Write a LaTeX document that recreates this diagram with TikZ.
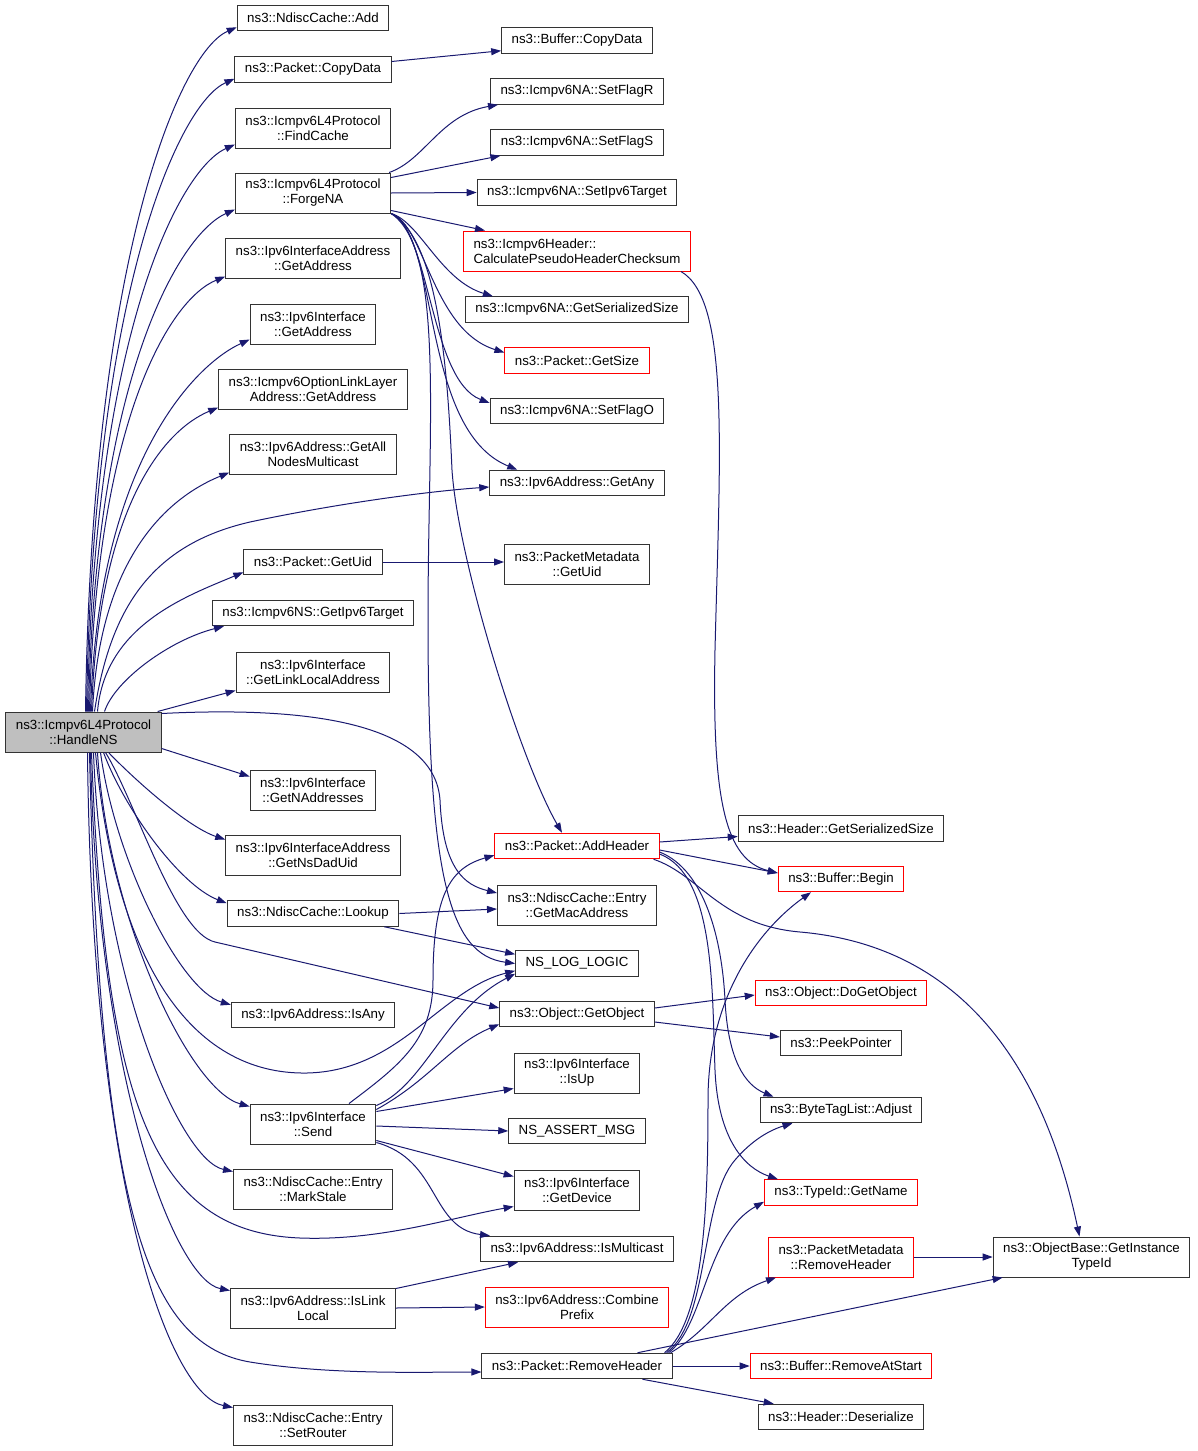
\documentclass[tikz,border=0pt]{standalone}
\usepackage{fontspec}
\setmainfont{Liberation Sans}
\usetikzlibrary{arrows.meta}
\definecolor{edgeblue}{RGB}{25,25,112}
\definecolor{rootgray}{RGB}{191,191,191}
\tikzset{
  fnbox/.style={draw=black!80, line width=1pt, fill=white, inner xsep=10pt, inner ysep=2pt,
    minimum height=25.5pt, font=\fontsize{13.3}{15}\selectfont, align=center},
  redbox/.style={fnbox, draw=red},
  tworow/.style={minimum height=40pt},
  callarrow/.style={draw=edgeblue, line width=1pt, -{Triangle[length=10pt,width=7pt]}},
}
\begin{document}
\begin{tikzpicture}[x=1pt,y=-1pt]
\useasboundingbox (0,0) rectangle (1197,1451);
% root
\node[fnbox,tworow,fill=rootgray] (hns) at (83.5,732) {ns3::Icmpv6L4Protocol\\::HandleNS};
% first level
\node[fnbox] (add) at (313,18) {ns3::NdiscCache::Add};
\node[fnbox] (copy) at (313,69.5) {ns3::Packet::CopyData};
\node[fnbox,tworow] (findcache) at (313,128) {ns3::Icmpv6L4Protocol\\::FindCache};
\node[fnbox,tworow] (forgena) at (313,193) {ns3::Icmpv6L4Protocol\\::ForgeNA};
\node[fnbox,tworow] (ifagetaddr) at (313,258) {ns3::Ipv6InterfaceAddress\\::GetAddress};
\node[fnbox,tworow] (ifgetaddr) at (313,324) {ns3::Ipv6Interface\\::GetAddress};
\node[fnbox,tworow] (llgetaddr) at (313,389) {ns3::Icmpv6OptionLinkLayer\\Address::GetAddress};
\node[fnbox,tworow] (allnodes) at (313,454) {ns3::Ipv6Address::GetAll\\NodesMulticast};
\node[fnbox] (getuid) at (313,562) {ns3::Packet::GetUid};
\node[fnbox] (nstarget) at (313,613) {ns3::Icmpv6NS::GetIpv6Target};
\node[fnbox,tworow] (linklocal) at (313,672) {ns3::Ipv6Interface\\::GetLinkLocalAddress};
\node[fnbox,tworow] (naddr) at (313,790) {ns3::Ipv6Interface\\::GetNAddresses};
\node[fnbox,tworow] (dadid) at (313,855) {ns3::Ipv6InterfaceAddress\\::GetNsDadUid};
\node[fnbox] (lookup) at (313,913.5) {ns3::NdiscCache::Lookup};
\node[fnbox] (isany) at (313,1015) {ns3::Ipv6Address::IsAny};
\node[fnbox,tworow] (send) at (313,1124) {ns3::Ipv6Interface\\::Send};
\node[fnbox,tworow] (markstale) at (313,1189) {ns3::NdiscCache::Entry\\::MarkStale};
\node[fnbox,tworow] (islink) at (313,1308) {ns3::Ipv6Address::IsLink\\Local};
\node[fnbox,tworow] (setrouter) at (313,1425) {ns3::NdiscCache::Entry\\::SetRouter};
% second level
\node[fnbox] (bufcopy) at (577,40.5) {ns3::Buffer::CopyData};
\node[fnbox] (flagr) at (577,91.5) {ns3::Icmpv6NA::SetFlagR};
\node[fnbox] (flags) at (577,142.5) {ns3::Icmpv6NA::SetFlagS};
\node[fnbox] (natarget) at (577,192.5) {ns3::Icmpv6NA::SetIpv6Target};
\node[redbox,tworow,align=left] (checksum) at (577,251) {ns3::Icmpv6Header::\\CalculatePseudoHeaderChecksum};
\node[fnbox] (nasize) at (577,309.5) {ns3::Icmpv6NA::GetSerializedSize};
\node[redbox] (getsize) at (577,360.5) {ns3::Packet::GetSize};
\node[fnbox] (flago) at (577,411) {ns3::Icmpv6NA::SetFlagO};
\node[fnbox] (getany) at (577,483) {ns3::Ipv6Address::GetAny};
\node[fnbox,tworow] (pmuid) at (577,564) {ns3::PacketMetadata\\::GetUid};
\node[redbox] (addhdr) at (577,846) {ns3::Packet::AddHeader};
\node[fnbox,tworow] (getmac) at (577,905) {ns3::NdiscCache::Entry\\::GetMacAddress};
\node[fnbox] (nslog) at (577,963.5) {NS\_LOG\_LOGIC};
\node[fnbox] (getobj) at (577,1014) {ns3::Object::GetObject};
\node[fnbox,tworow] (isup) at (577,1073) {ns3::Ipv6Interface\\::IsUp};
\node[fnbox] (assertmsg) at (577,1131) {NS\_ASSERT\_MSG};
\node[fnbox,tworow] (getdev) at (577,1190) {ns3::Ipv6Interface\\::GetDevice};
\node[fnbox] (ismcast) at (577,1249) {ns3::Ipv6Address::IsMulticast};
\node[redbox,tworow] (combine) at (577,1307) {ns3::Ipv6Address::Combine\\Prefix};
\node[fnbox] (removehdr) at (577,1366) {ns3::Packet::RemoveHeader};
% third level
\node[fnbox] (hdrsize) at (841,828.5) {ns3::Header::GetSerializedSize};
\node[redbox] (bufbegin) at (841,879) {ns3::Buffer::Begin};
\node[redbox] (dogetobj) at (841,993) {ns3::Object::DoGetObject};
\node[fnbox] (peek) at (841,1043) {ns3::PeekPointer};
\node[fnbox] (adjust) at (841,1110) {ns3::ByteTagList::Adjust};
\node[redbox] (getname) at (841,1192.5) {ns3::TypeId::GetName};
\node[redbox,tworow] (pmremove) at (841,1257) {ns3::PacketMetadata\\::RemoveHeader};
\node[redbox] (rmstart) at (841,1366) {ns3::Buffer::RemoveAtStart};
\node[fnbox] (deser) at (841,1417) {ns3::Header::Deserialize};
% fourth level
\node[fnbox,tworow] (typeid) at (1091.5,1257) {ns3::ObjectBase::GetInstance\\TypeId};
% calls of HandleNS, upwards
\draw[callarrow] ([xshift=2pt]hns.north) .. controls (92,255) and (180,52) .. ([yshift=4pt]add.south west);
\draw[callarrow] ([xshift=3pt]hns.north) .. controls (93,287) and (180,103) .. ([yshift=4pt]copy.south west);
\draw[callarrow] ([xshift=4pt]hns.north) .. controls (94,331) and (180,169) .. ([yshift=4pt]findcache.south west);
\draw[callarrow] ([xshift=5pt]hns.north) .. controls (95,375) and (180,234) .. ([yshift=4pt]forgena.south west);
\draw[callarrow] ([xshift=6pt]hns.north) .. controls (96,419) and (170,299) .. ([yshift=2pt]ifagetaddr.south west);
\draw[callarrow] ([xshift=7pt]hns.north) .. controls (98,463) and (194,365) .. ([yshift=5pt]ifgetaddr.south west);
\draw[callarrow] ([xshift=8pt]hns.north) .. controls (99,506) and (164,430) .. ([yshift=2pt]llgetaddr.south west);
\draw[callarrow] ([xshift=9pt]hns.north) .. controls (100,550) and (174,495) .. ([yshift=2pt]allnodes.south west);
\draw[callarrow] ([xshift=11pt]hns.north) .. controls (110,610) and (150,545) .. (250,522) .. controls (330,505) and (420,492) .. ([yshift=-4pt]getany.west);
\draw[callarrow] ([xshift=14pt]hns.north) .. controls (105,625) and (187,596) .. ([yshift=3pt]getuid.south west);
\draw[callarrow] ([xshift=21pt]hns.north) .. controls (115,680) and (170,640) .. ([xshift=12pt]nstarget.south west);
\draw[callarrow] ([xshift=-4pt]hns.north east) -- ([yshift=2pt]linklocal.south west);
% calls of HandleNS, downwards
\draw[callarrow] ([yshift=-2pt]hns.north east) .. controls (330,705) and (435,730) .. (440,800) .. controls (443,870) and (465,885) .. ([yshift=12pt]getmac.west);
\draw[callarrow] ([yshift=4pt]hns.south east) -- ([yshift=-7pt]naddr.north west);
\draw[callarrow] ([xshift=25pt]hns.south) .. controls (140,785) and (190,828) .. ([yshift=-5pt]dadid.north west);
\draw[callarrow] ([xshift=20pt]hns.south) .. controls (125,810) and (180,885) .. ([yshift=-3pt]lookup.north west);
\draw[callarrow] ([xshift=22pt]hns.south) .. controls (135,800) and (175,933) .. (215,942) -- ([yshift=6pt]getobj.west);
\draw[callarrow] ([xshift=17pt]hns.south) .. controls (115,860) and (180,990) .. ([yshift=-3pt]isany.north west);
\draw[callarrow] ([xshift=12pt]hns.south) .. controls (115,960) and (190,1075) .. (307,1073) .. controls (400,1071) and (440,990) .. ([yshift=6pt]nslog.south west);
\draw[callarrow] ([xshift=14pt]hns.south) .. controls (108,920) and (190,1090) .. ([yshift=-3pt]send.north west);
\draw[callarrow] ([xshift=10pt]hns.south) .. controls (102,980) and (180,1160) .. ([yshift=-3pt]markstale.north west);
\draw[callarrow] ([xshift=8pt]hns.south) .. controls (105,1100) and (150,1232) .. (300,1238) .. controls (380,1241) and (450,1218) .. ([yshift=4pt]getdev.south west);
\draw[callarrow] ([xshift=7pt]hns.south) .. controls (97,1080) and (175,1280) .. ([yshift=-3pt]islink.north west);
\draw[callarrow] ([xshift=6pt]hns.south) .. controls (100,1220) and (150,1345) .. (250,1362) .. controls (330,1375) and (420,1372) .. ([yshift=-6pt]removehdr.west);
\draw[callarrow] ([xshift=4pt]hns.south) .. controls (92,1190) and (170,1395) .. ([yshift=-3pt]setrouter.north west);
% calls of the first level
\draw[callarrow] ([yshift=8pt]copy.east) -- ([yshift=3pt]bufcopy.south west);
\draw[callarrow] ([xshift=-2pt]forgena.north east) .. controls (425,160) and (440,115) .. ([xshift=8pt]flagr.south west);
\draw[callarrow] ([yshift=-5pt]forgena.north east) -- ([xshift=10pt]flags.south west);
\draw[callarrow] (forgena.east) -- (natarget.west);
\draw[callarrow] ([yshift=3pt]forgena.south east) -- ([xshift=22pt]checksum.north west);
\draw[callarrow] (forgena.south east) .. controls (420,222) and (440,280) .. ([xshift=28pt]nasize.north west);
\draw[callarrow] (forgena.south east) .. controls (425,225) and (432,330) .. ([yshift=8pt]getsize.west);
\draw[callarrow] (forgena.south east) .. controls (430,230) and (430,380) .. ([yshift=8pt]flago.west);
\draw[callarrow] (forgena.south east) .. controls (440,235) and (420,430) .. ([xshift=28pt]getany.north west);
\draw[callarrow] (forgena.south east) .. controls (440,240) and (448,380) .. (452,470) .. controls (458,560) and (520,760) .. ([xshift=-15pt]addhdr.north);
\draw[callarrow] (forgena.south east) .. controls (445,250) and (428,420) .. (428,620) .. controls (428,880) and (450,955) .. (nslog.west);
\draw[callarrow] (getuid.east) -- ([yshift=2pt]pmuid.west);
\draw[callarrow] (lookup.east) -- ([yshift=-4pt]getmac.west);
\draw[callarrow] ([xshift=-15pt]lookup.south east) -- ([yshift=-4pt]nslog.north west);
\draw[callarrow] ([xshift=36pt]send.north) .. controls (400,1065) and (433,1040) .. (433,980) .. controls (433,895) and (450,868) .. ([yshift=4pt]addhdr.south west);
\draw[callarrow] ([yshift=-2pt]send.north east) .. controls (425,1085) and (445,1010) .. ([yshift=3pt]nslog.south west);
\draw[callarrow] ([yshift=-6pt]send.north east) .. controls (430,1080) and (450,1045) .. ([yshift=3pt]getobj.south west);
\draw[callarrow] ([yshift=-8pt]send.north east) -- ([yshift=5pt]isup.south west);
\draw[callarrow] ([yshift=-2pt]send.east) -- (assertmsg.west);
\draw[callarrow] ([yshift=4pt]send.south east) -- ([yshift=-7pt]getdev.north west);
\draw[callarrow] ([yshift=2pt]send.south east) .. controls (440,1160) and (430,1228) .. ([xshift=10pt]ismcast.north west);
\draw[callarrow] ([yshift=-1pt]islink.north east) -- ([xshift=38pt]ismcast.south west);
\draw[callarrow] (islink.east) -- (combine.west);
% calls of the second level
\draw[callarrow] ([xshift=-10pt]checksum.south east) .. controls (730,300) and (720,450) .. (715,650) .. controls (712,800) and (725,860) .. ([yshift=6pt]bufbegin.west);
\draw[callarrow] ([yshift=4pt]addhdr.east) -- ([yshift=-8pt]hdrsize.west);
\draw[callarrow] ([yshift=-4pt]addhdr.east) -- ([yshift=6pt]bufbegin.west);
\draw[callarrow] ([xshift=-6pt]addhdr.south east) .. controls (700,875) and (720,925) .. (800,932) .. controls (950,945) and (1040,1050) .. ([xshift=-12pt]typeid.north);
\draw[callarrow] ([yshift=-6pt]addhdr.east) .. controls (705,870) and (722,940) .. (725,1000) .. controls (728,1060) and (745,1085) .. ([xshift=14pt]adjust.north west);
\draw[callarrow] ([yshift=-8pt]addhdr.east) .. controls (715,875) and (712,990) .. (715,1070) .. controls (718,1140) and (745,1168) .. ([xshift=14pt]getname.north west);
\draw[callarrow] ([yshift=6pt]getobj.east) -- ([yshift=-2pt]dogetobj.west);
\draw[callarrow] ([yshift=-8pt]getobj.east) -- ([yshift=6pt]peek.west);
\draw[callarrow] ([xshift=-8pt]removehdr.north east) .. controls (705,1320) and (708,1200) .. (708,1100) .. controls (708,990) and (765,925) .. ([xshift=-30pt]bufbegin.south);
\draw[callarrow] ([xshift=-6pt]removehdr.north east) .. controls (710,1320) and (700,1200) .. (735,1160) .. controls (752,1140) and (770,1130) .. ([xshift=33pt]adjust.south west);
\draw[callarrow] ([xshift=-4pt]removehdr.north east) .. controls (705,1325) and (705,1235) .. ([yshift=4pt]getname.south west);
\draw[callarrow] ([xshift=-2pt]removehdr.north east) .. controls (710,1330) and (725,1295) .. ([xshift=8pt]pmremove.south west);
\draw[callarrow] ([xshift=-35pt]removehdr.north east) -- ([xshift=10pt]typeid.south west);
\draw[callarrow] (removehdr.east) -- (rmstart.west);
\draw[callarrow] ([xshift=-30pt]removehdr.south east) -- ([xshift=16pt]deser.north west);
% calls of the third level
\draw[callarrow] (pmremove.east) -- (typeid.west);
\end{tikzpicture}
\end{document}
